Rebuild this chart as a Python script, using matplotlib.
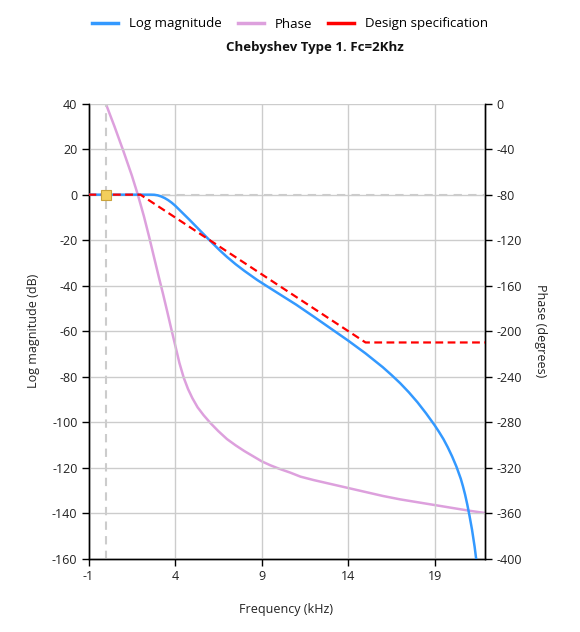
import matplotlib
matplotlib.use("Agg")
import matplotlib.pyplot as plt
import numpy as np

plt.rcParams['font.family'] = ['Open Sans', 'DejaVu Sans']
plt.rcParams['axes.unicode_minus'] = False

# Data
mag_freq = [-1, 0, 1, 2, 2.6, 2.8, 3.0, 3.2, 3.4, 3.6, 3.8, 4.0, 4.4, 4.84, 5.2, 5.6,
            6.0, 6.57, 7.0, 7.5, 8.0, 8.74, 9.5, 10.0, 11.0, 12.0, 13.0, 14.0, 15.0,
            16.0, 16.5, 17.0, 17.5, 18.0, 18.5, 19.0, 19.25, 19.5, 19.75, 20.0, 20.25,
            20.5, 20.625, 20.75, 20.875, 21.0, 21.15, 21.3, 21.45]
mag_db = [0, 0, 0, 0, 0, -0.05, -0.3, -0.8, -1.5, -2.4, -3.5, -4.8, -7.8, -11.1, -13.9,
          -17.0, -20.1, -24.4, -27.4, -30.6, -33.5, -37.5, -41.2, -43.6, -48.4, -53.6,
          -58.9, -64.2, -69.8, -75.9, -79.3, -82.9, -86.9, -91.3, -96.2, -101.5,
          -104.4, -107.5, -111.1, -115.1, -119.6, -124.9, -128.2, -131.9, -136.2,
          -141.0, -147.3, -154.8, -163.8]

phase_freq = [0, 0.5, 1.0, 1.5, 1.86, 2.2, 2.5, 2.8, 3.07, 3.3, 3.55, 3.78, 4.0, 4.25,
              4.5, 4.75, 5.0, 5.3, 5.65, 6.05, 6.5, 7.0, 7.5, 8.0, 8.5, 9.0, 9.5, 10.0,
              10.66, 11.24, 12.0, 13.0, 14.0, 15.0, 16.0, 17.0, 18.0, 19.0, 20.0, 21.0,
              21.9]
phase_deg = [0, -20, -41, -63, -80.6, -99, -117, -136, -153, -167, -183, -198, -212,
             -228, -241, -251, -259, -267, -274, -281, -288, -295, -300.5, -305.5, -310,
             -314.5, -318, -321, -324.5, -328, -331, -334.5, -338, -341.5, -345, -348,
             -350.5, -353, -355.5, -358, -360]

spec_freq = [-1, 2, 15, 21.9]
spec_db = [0, 0, -65, -65]

x_ticks = [-1, 4, 9, 14, 19]
db_ticks = [40, 20, 0, -20, -40, -60, -80, -100, -120, -140, -160]
phase_ticks = [0, -40, -80, -120, -160, -200, -240, -280, -320, -360, -400]

W, H = 580, 632
fig = plt.figure(figsize=(W / 100, H / 100), dpi=100)
left, right, top, bottom = 88.5, 485, 103.7, 558.5
ax = fig.add_axes([left / W, 1 - bottom / H, (right - left) / W, (bottom - top) / H])
ax2 = ax.twinx()

tick_color = '#222222'
fs = 9

# Phase on the twin axis
ax2.plot(phase_freq, phase_deg, color='#DDA0DD', lw=1.8, label='Phase',
         solid_joinstyle='round')
ax2.set_ylim(-400, 0)
ax2.set_yticks(phase_ticks)
ax2.tick_params(axis='y', direction='out', length=5, width=1, colors='black',
                labelcolor=tick_color, labelsize=fs, pad=3)

# Magnitude axis on top
ax.set_zorder(ax2.get_zorder() + 1)
ax.patch.set_visible(False)

ax.set_xlim(-1, 21.9)
ax.set_ylim(-160, 40)
ax.set_xticks(x_ticks)
ax.set_yticks(db_ticks)
ax.grid(True, color='#cccccc', lw=1)
ax.set_axisbelow(True)

# Crosshair-like dashed lines
ax.axvline(0, color='#cccccc', lw=1.5, ls=(0, (4, 3)), zorder=1)
ax.axhline(0, color='#cccccc', lw=1.5, ls=(0, (4, 3)), zorder=1)

l1, = ax.plot(mag_freq, mag_db, color='#3399FF', lw=1.8, label='Log magnitude', zorder=3,
              solid_joinstyle='round')
l3, = ax.plot(spec_freq, spec_db, color='#FF0000', lw=1.6, ls=(0, (3.5, 2)),
              label='Design specification', zorder=4)
ax.plot([0], [0], marker='s', ms=6.5, mfc='#F3CE5C', mec='#C9A23A', mew=0.8, zorder=5)

ax.tick_params(axis='both', direction='out', length=5, width=1, colors='black',
               labelcolor=tick_color, labelsize=fs, pad=3)

for a in (ax, ax2):
    a.spines['top'].set_visible(False)
    for s in ('left', 'right', 'bottom'):
        a.spines[s].set_color('black')
        a.spines[s].set_linewidth(1)

l2 = ax2.get_lines()[0]
fig.legend([l1, l2, l3], ['Log magnitude', 'Phase', 'Design specification'],
           loc='center', bbox_to_anchor=(290 / W, 1 - 24 / H), ncol=3, frameon=False,
           fontsize=fs + 0.5, handlelength=2.0, handletextpad=0.8, columnspacing=1.2)
for h in fig.legends[0].legend_handles:
    h.set_linestyle('-')
    h.set_linewidth(2.5)

fig.text(315 / W, 1 - 47 / H, 'Chebyshev Type 1. Fc=2Khz', ha='center', va='center',
         fontsize=fs + 0.5, fontweight='bold', color='#111111')
fig.text(286 / W, 1 - 610 / H, 'Frequency (kHz)', ha='center', va='center',
         fontsize=fs, color=tick_color)
fig.text(33 / W, 1 - 331 / H, 'Log magnitude (dB)', ha='center', va='center',
         rotation=90, fontsize=fs, color=tick_color)
fig.text(541 / W, 1 - 331 / H, 'Phase (degrees)', ha='center', va='center',
         rotation=270, fontsize=fs, color=tick_color)

fig.savefig('out.png', dpi=100)
